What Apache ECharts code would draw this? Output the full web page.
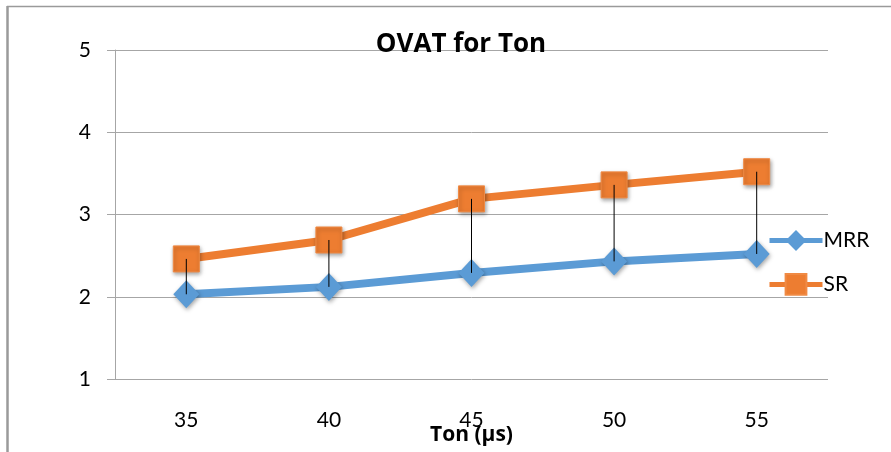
<!DOCTYPE html>
<html><head><meta charset="utf-8">
<script src="https://cdn.jsdelivr.net/npm/echarts@6/dist/echarts.min.js"></script>
<style>html,body{margin:0;padding:0;background:#fff}#c{width:891px;height:452px}</style>
</head><body><div id="c"></div>
<script>
var categories = ['35', '40', '45', '50', '55'];
var mrr = [2.03, 2.12, 2.29, 2.43, 2.52];
var sr = [2.46, 2.69, 3.19, 3.36, 3.52];
var yTicks = [1, 2, 3, 4, 5];

var chart = echarts.init(document.getElementById('c'));
var font = 'Lato, "Open Sans", sans-serif';
var shadow = {shadowBlur: 4, shadowColor: 'rgba(0,0,0,0.35)', shadowOffsetX: 1, shadowOffsetY: 2};
chart.setOption({
  animation: false,
  grid: {left: 115, right: 63, top: 50, bottom: 73, containLabel: false, outerBoundsMode: 'none'},
  graphic: [
    {type: 'line', shape: {x1: 7.5, y1: 6, x2: 7.5, y2: 452}, style: {stroke: '#9a9a9a', lineWidth: 2.5}},
    {type: 'line', shape: {x1: 7, y1: 6.5, x2: 891, y2: 6.5}, style: {stroke: '#9a9a9a', lineWidth: 1.5}},
    {type: 'text', x: 461, y: 45, z: 100, style: {text: 'OVAT for Ton', font: 'bold 26px "Open Sans", sans-serif', fill: '#000', textAlign: 'center', textVerticalAlign: 'middle'}}
  ],
  legend: {
    orient: 'vertical', left: 762, top: 225, itemWidth: 53, itemHeight: 26, itemGap: 22,
    lineStyle: {width: 5},
    textStyle: {fontFamily: font, fontSize: 21, color: '#000', padding: [0, 0, 0, -4]},
    data: ['MRR', 'SR']
  },
  xAxis: {
    type: 'category', data: categories, boundaryGap: true,
    axisLine: {show: false}, axisTick: {show: false},
    axisLabel: {margin: 31, fontFamily: font, fontSize: 21, color: '#000'},
    name: 'Ton (µs)', nameLocation: 'middle', nameGap: 46, nameMoveOverlap: false,
    nameTextStyle: {fontFamily: '"Open Sans", sans-serif', fontSize: 21, fontWeight: 'bold', color: '#000'}
  },
  yAxis: {
    type: 'value', min: yTicks[0], max: yTicks[yTicks.length - 1], interval: 1,
    axisLine: {show: true, lineStyle: {color: '#a6a6a6', width: 1}},
    axisTick: {show: true, length: 8, lineStyle: {color: '#a6a6a6'}},
    splitLine: {lineStyle: {color: '#a6a6a6', width: 1}},
    axisLabel: {margin: 24, fontFamily: font, fontSize: 21, color: '#000'}
  },
  series: [
    {name: 'MRR', type: 'line', data: mrr, symbol: 'diamond', symbolSize: [26, 28],
     lineStyle: {color: '#5B9BD5', width: 8}, itemStyle: Object.assign({color: '#5B9BD5'}, shadow), z: 2},
    {name: 'SR', type: 'line', data: sr, symbol: 'rect', symbolSize: 26,
     lineStyle: {color: '#ED7D31', width: 8}, itemStyle: Object.assign({color: '#ED7D31', borderColor: '#F08A44', borderWidth: 1}, shadow), z: 3},
    {name: 'hilo', type: 'custom', z: 10, silent: true,
     data: categories.map(function (c, i) { return [i, mrr[i], sr[i]]; }),
     renderItem: function (params, api) {
       var p1 = api.coord([api.value(0), api.value(1)]);
       var p2 = api.coord([api.value(0), api.value(2)]);
       return {type: 'line', shape: {x1: p1[0], y1: p1[1], x2: p2[0], y2: p2[1]}, style: {stroke: '#000', lineWidth: 1}};
     }}
  ]
});
</script></body></html>
